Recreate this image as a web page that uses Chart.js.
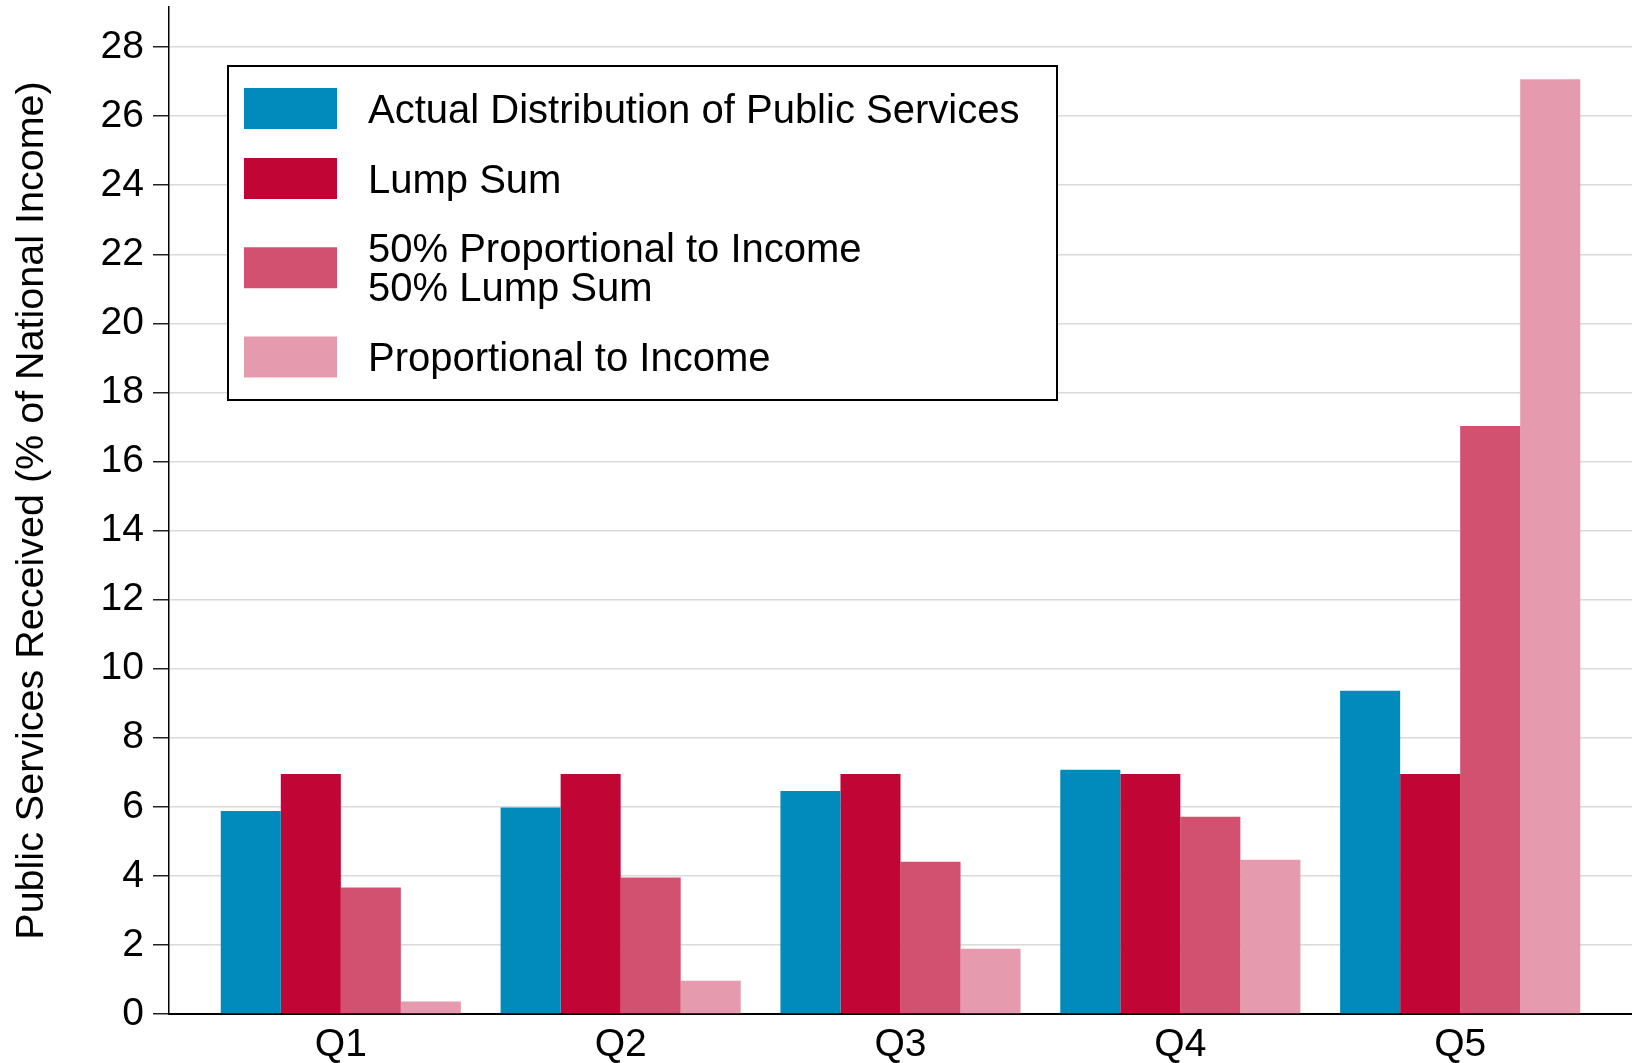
<!DOCTYPE html>
<html>
<head>
<meta charset="utf-8">
<title>Public Services Received by Quintile</title>
<script src="https://cdn.jsdelivr.net/npm/chart.js@4/dist/chart.umd.min.js"></script>
<style>
    html, body { margin: 0; padding: 0; background: #fff; }
    #wrap { width: 1632px; height: 1063px; }
</style>
</head>
<body>
<div id="wrap"><canvas id="chart-quintile" width="1632" height="1063"></canvas></div>
<script>
// Income quintiles
const quintiles = ['Q1', 'Q2', 'Q3', 'Q4', 'Q5'];

// Public services received (% of national income)
const actualValues = [5.88, 5.98, 6.46, 7.07, 9.36];
const lumpSumValues = [6.95, 6.95, 6.95, 6.95, 6.95];
const halfHalfValues = [3.66, 3.95, 4.41, 5.71, 17.03];
const proportionalValues = [0.36, 0.96, 1.89, 4.47, 27.07];

const seriesLabels = [
    'Actual Distribution of Public Services',
    'Lump Sum',
    '50% Proportional to Income\n50% Lump Sum',
    'Proportional to Income'
];
const seriesColors = ['#008bbc', '#c10534', '#d35170', '#e69aae'];

const yAxisTitle = 'Public Services Received (% of National Income)';
const yMax = 29.16;
const yStep = 2;

const FONT = '"Liberation Sans", Arial, Helvetica, sans-serif';

// Boxed legend drawn inside the plot area (top-left), like the original figure
const boxLegend = {
    id: 'boxLegend',
    afterDraw(chart) {
        const ctx = chart.ctx;
        const box = { x: 228, y: 66, w: 829, h: 334 };
        const swatchX = 244, swatchW = 93, swatchH = 41;
        const textX = 368, textDy = 3;
        const rowLine = 38.5, textLine = 39, rowGap = 29;

        ctx.save();
        ctx.fillStyle = '#fff';
        ctx.fillRect(box.x, box.y, box.w, box.h);
        ctx.lineWidth = 2;
        ctx.strokeStyle = '#000';
        ctx.strokeRect(box.x, box.y, box.w, box.h);

        ctx.font = '40px ' + FONT;
        ctx.textBaseline = 'middle';
        ctx.textAlign = 'left';

        let y = box.y + 22;
        chart.data.datasets.forEach(ds => {
            const lines = ds.label.split('\n');
            const h = swatchH + (lines.length - 1) * rowLine;
            const cy = y + h / 2;
            ctx.fillStyle = ds.backgroundColor;
            ctx.fillRect(swatchX, cy - swatchH / 2, swatchW, swatchH);
            ctx.fillStyle = '#000';
            lines.forEach((line, i) => {
                ctx.fillText(line, textX, cy + textDy + (i - (lines.length - 1) / 2) * textLine);
            });
            y += h + rowGap;
        });
        ctx.restore();
    }
};

const seriesValues = [actualValues, lumpSumValues, halfHalfValues, proportionalValues];

new Chart(document.getElementById('chart-quintile'), {
    type: 'bar',
    data: {
        datasets: seriesValues.map((vals, i) => ({
            label: seriesLabels[i],
            data: vals.map((v, k) => ({ x: k, y: v })),
            backgroundColor: seriesColors[i],
            borderWidth: 0,
            categoryPercentage: 0.858,
            barPercentage: 1.0
        }))
    },
    options: {
        responsive: false,
        animation: false,
        layout: { padding: 0 },
        plugins: {
            legend: { display: false },
            tooltip: { enabled: false }
        },
        scales: {
            x: {
                type: 'linear',
                min: -0.614,
                max: 4.614,
                offset: false,
                z: 1,
                grid: { display: false, drawTicks: false, offset: false },
                border: { display: true, color: '#000', width: 2 },
                ticks: {
                    stepSize: 1,
                    includeBounds: false,
                    autoSkip: false,
                    maxRotation: 0,
                    padding: 8,
                    color: '#000',
                    font: { family: FONT, size: 39 },
                    callback: v => Number.isInteger(v) ? (quintiles[v] || '') : ''
                },
                afterFit: s => { s.height = 49; }
            },
            y: {
                min: 0,
                max: yMax,
                grid: {
                    color: '#dadada',
                    lineWidth: 1.5,
                    tickColor: '#222',
                    tickLength: 16,
                    tickWidth: 1.5
                },
                border: { display: true, color: '#000', width: 1.5 },
                ticks: {
                    stepSize: yStep,
                    includeBounds: false,
                    padding: 9,
                    color: '#000',
                    font: { family: FONT, size: 39 }
                },
                title: {
                    display: true,
                    text: yAxisTitle,
                    color: '#000',
                    font: { family: FONT, size: 39.5 },
                    padding: { top: 8, bottom: 0 }
                },
                afterFit: s => {
                    s.width = 169;
                    // plot starts 7px below the top edge, as in the original
                    s.paddingTop = 7;
                    s.paddingBottom = 0;
                }
            }
        }
    },
    plugins: [boxLegend]
});
</script>
</body>
</html>
